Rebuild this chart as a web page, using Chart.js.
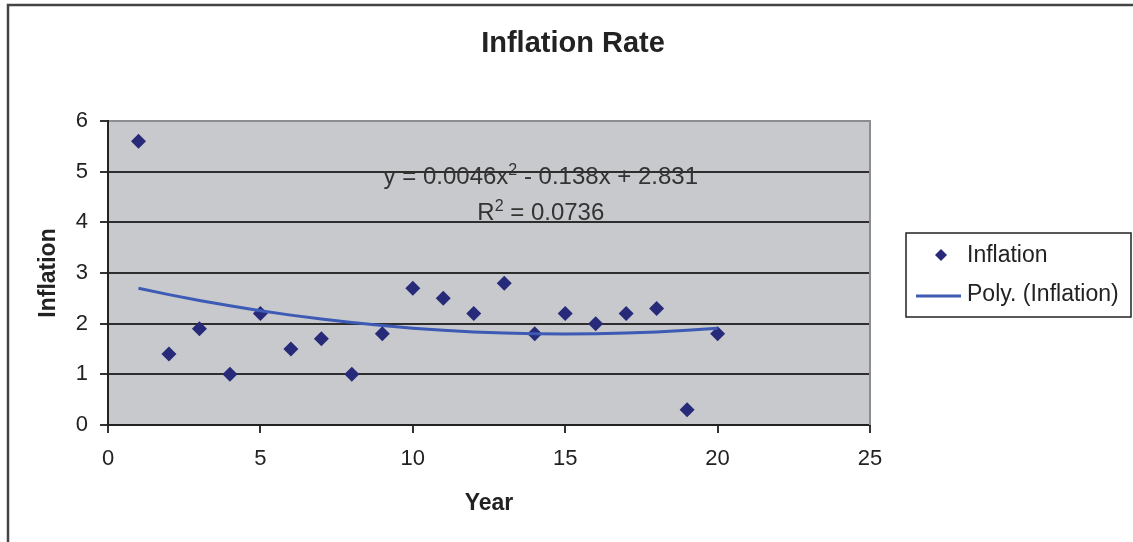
<!DOCTYPE html>
<html>
<head>
<meta charset="utf-8">
<title>Inflation Rate</title>
<script src="https://cdn.jsdelivr.net/npm/chart.js@4/dist/chart.umd.min.js"></script>
<style>
  html, body { margin: 0; padding: 0; background: #ffffff; }
  #wrap { width: 1133px; height: 542px; }
</style>
</head>
<body>
<div id="wrap"><canvas id="chart" width="1133" height="542"></canvas></div>
<script>
// Yearly inflation observations
const years = [1, 2, 3, 4, 5, 6, 7, 8, 9, 10, 11, 12, 13, 14, 15, 16, 17, 18, 19, 20];
const inflation = [5.6, 1.4, 1.9, 1.0, 2.2, 1.5, 1.7, 1.0, 1.8, 2.7, 2.5, 2.2, 2.8, 1.8, 2.2, 2.0, 2.2, 2.3, 0.3, 1.8];

// Second-order polynomial trend: y = c2*x^2 + c1*x + c0
const trendCoef = [2.831, -0.138, 0.0046];
const rSquared = 0.0736;

// Axis tick settings
const xTicks = [0, 5, 10, 15, 20, 25];
const yTicks = [0, 1, 2, 3, 4, 5, 6];

const chartTitle = 'Inflation Rate';

const FONT = "'Liberation Sans', Arial, Helvetica, sans-serif";
const TEXT = '#222222';
const POINT_COLOR = '#262a78';
const TREND_COLOR = '#3d5ab4';

const trendValue = x => trendCoef[2] * x * x + trendCoef[1] * x + trendCoef[0];

const scatterData = years.map((x, i) => ({ x, y: inflation[i] }));
const trendData = years.map(x => ({ x, y: trendValue(x) }));

const frameAndBackground = {
  id: 'frameAndBackground',
  beforeDraw(chart) {
    const { ctx, chartArea: a } = chart;
    ctx.save();
    ctx.fillStyle = '#ffffff';
    ctx.fillRect(0, 0, chart.width, chart.height);
    // outer chart frame
    ctx.strokeStyle = '#444444';
    ctx.lineWidth = 2.5;
    ctx.beginPath();
    ctx.moveTo(8, chart.height + 2);
    ctx.lineTo(8, 5);
    ctx.lineTo(chart.width + 2, 5);
    ctx.stroke();
    // chart title, centred on the whole frame
    ctx.fillStyle = TEXT;
    ctx.font = `bold 29px ${FONT}`;
    ctx.textAlign = 'center';
    ctx.textBaseline = 'middle';
    ctx.fillText(chartTitle, 573, 44);
    // plot area fill
    ctx.fillStyle = '#c8c9cd';
    ctx.fillRect(a.left, a.top, a.right - a.left, a.bottom - a.top);
    ctx.restore();
  },
  beforeDatasetsDraw(chart) {
    const { ctx, chartArea: a } = chart;
    ctx.save();
    ctx.strokeStyle = '#8c8d92';
    ctx.lineWidth = 2;
    ctx.beginPath();
    ctx.moveTo(a.right, a.top - 1);
    ctx.lineTo(a.right, a.bottom);
    ctx.stroke();
    ctx.restore();
  }
};

const fmt = v => String(v);

const equationAndLegend = {
  id: 'equationAndLegend',
  afterDraw(chart) {
    const { ctx, chartArea: a } = chart;
    const xs = chart.scales.x, ys = chart.scales.y;
    ctx.save();
    ctx.fillStyle = '#333333';
    ctx.textBaseline = 'alphabetic';
    ctx.textAlign = 'left';

    // draws a run of text pieces, some of them superscript, centred on cx
    const drawRuns = (runs, cx, baseline) => {
      const main = `24px ${FONT}`, sup = `16px ${FONT}`;
      let total = 0;
      runs.forEach(r => { ctx.font = r.sup ? sup : main; total += ctx.measureText(r.t).width; });
      let x = cx - total / 2;
      runs.forEach(r => {
        ctx.font = r.sup ? sup : main;
        ctx.fillText(r.t, x, r.sup ? baseline - 9 : baseline);
        x += ctx.measureText(r.t).width;
      });
    };

    const cx = xs.getPixelForValue(14.2);
    const sign = trendCoef[1] < 0 ? ' - ' : ' + ';
    drawRuns([
      { t: `y = ${fmt(trendCoef[2])}x` },
      { t: '2', sup: true },
      { t: `${sign}${fmt(Math.abs(trendCoef[1]))}x + ${fmt(trendCoef[0])}` }
    ], cx, ys.getPixelForValue(4.75));
    drawRuns([
      { t: 'R' },
      { t: '2', sup: true },
      { t: ` = ${fmt(rSquared)}` }
    ], cx, ys.getPixelForValue(4.05));

    // legend
    const lx = a.right + 36, ly = 233, lw = 225, lh = 84;
    ctx.strokeStyle = '#222222';
    ctx.lineWidth = 1.5;
    ctx.strokeRect(lx, ly, lw, lh);
    ctx.font = `23px ${FONT}`;
    ctx.textBaseline = 'middle';
    const ds = chart.data.datasets;
    // scatter entry
    const r = 6;
    ctx.fillStyle = POINT_COLOR;
    ctx.beginPath();
    ctx.moveTo(lx + 35, ly + 22 - r);
    ctx.lineTo(lx + 35 + r, ly + 22);
    ctx.lineTo(lx + 35, ly + 22 + r);
    ctx.lineTo(lx + 35 - r, ly + 22);
    ctx.closePath();
    ctx.fill();
    ctx.fillStyle = TEXT;
    ctx.fillText(ds[1].label, lx + 61, ly + 23);
    // trend entry
    ctx.strokeStyle = TREND_COLOR;
    ctx.lineWidth = 3;
    ctx.beginPath();
    ctx.moveTo(lx + 10, ly + 63);
    ctx.lineTo(lx + 55, ly + 63);
    ctx.stroke();
    ctx.fillText(ds[0].label, lx + 61, ly + 62);
    ctx.restore();
  }
};

new Chart(document.getElementById('chart'), {
  type: 'scatter',
  data: {
    datasets: [
      {
        type: 'line',
        label: 'Poly. (Inflation)',
        data: trendData,
        borderColor: TREND_COLOR,
        borderWidth: 3,
        pointRadius: 0,
        fill: false,
        tension: 0,
        order: 0
      },
      {
        label: 'Inflation',
        data: scatterData,
        pointStyle: 'rectRot',
        pointRadius: 7.5,
        backgroundColor: POINT_COLOR,
        borderColor: POINT_COLOR,
        borderWidth: 0,
        order: 1
      }
    ]
  },
  options: {
    responsive: false,
    animation: false,
    devicePixelRatio: 1,
    events: [],
    layout: { padding: { left: 0, right: 263, top: 121, bottom: 0 } },
    plugins: {
      legend: { display: false },
      tooltip: { enabled: false },
      title: { display: false }
    },
    scales: {
      x: {
        type: 'linear',
        min: xTicks[0],
        max: xTicks[xTicks.length - 1],
        afterBuildTicks: s => { s.ticks = xTicks.map(v => ({ value: v })); },
        afterFit: s => { s.height = 117; },
        ticks: { color: TEXT, font: { family: FONT, size: 22 }, padding: 13, maxRotation: 0 },
        grid: { drawOnChartArea: false, drawTicks: true, tickLength: 8, color: '#333333', lineWidth: 2 },
        border: { color: '#222222', width: 2 },
        title: {
          display: true,
          text: 'Year',
          color: TEXT,
          font: { family: FONT, size: 23, weight: 'bold', lineHeight: 1.2 },
          padding: { top: 0, bottom: 25 }
        }
      },
      y: {
        type: 'linear',
        min: yTicks[0],
        max: yTicks[yTicks.length - 1],
        afterBuildTicks: s => { s.ticks = yTicks.map(v => ({ value: v })); },
        afterFit: s => { s.width = 108; },
        ticks: { color: TEXT, font: { family: FONT, size: 22 }, padding: 12 },
        grid: {
          color: c => (c.tick && c.tick.value === yTicks[yTicks.length - 1]) ? '#8c8d92' : '#2e2e2e',
          tickColor: '#333333',
          lineWidth: 2,
          tickLength: 8
        },
        border: { color: '#222222', width: 2 },
        title: {
          display: true,
          text: 'Inflation',
          color: TEXT,
          font: { family: FONT, size: 23, weight: 'bold', lineHeight: 1.2 },
          padding: { top: 35, bottom: 0 }
        }
      }
    }
  },
  plugins: [frameAndBackground, equationAndLegend]
});
</script>
</body>
</html>
